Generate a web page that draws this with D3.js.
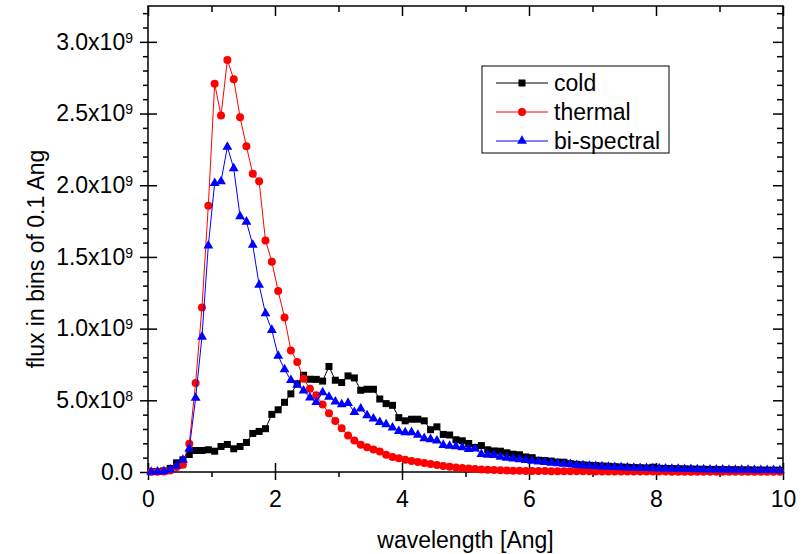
<!DOCTYPE html>
<html>
<head>
<meta charset="utf-8">
<script src="https://cdn.jsdelivr.net/npm/d3@7"></script>
<style>
  body { margin: 0; background: #fff; }
  svg { display: block; font-family: "Liberation Sans", Arial, sans-serif; }
</style>
</head>
<body>
<div id="chart"></div>
<script>
// wavelength bin centres (Ang), 0.1 Ang bins
const wavelength = d3.range(100).map(i => +(0.05 + i * 0.1).toFixed(2));

// flux values, in units of 1e9
const cold = [
  0.002, 0.004, 0.008, 0.025, 0.064, 0.085, 0.122, 0.150, 0.150, 0.155,
  0.145, 0.178, 0.192, 0.162, 0.178, 0.206, 0.269, 0.283, 0.302, 0.402,
  0.434, 0.486, 0.545, 0.615, 0.675, 0.647, 0.646, 0.634, 0.736, 0.640,
  0.624, 0.670, 0.656, 0.570, 0.577, 0.577, 0.509, 0.477, 0.465, 0.379,
  0.357, 0.368, 0.368, 0.357, 0.295, 0.315, 0.262, 0.258, 0.225, 0.218,
  0.199, 0.171, 0.184, 0.155, 0.147, 0.145, 0.134, 0.124, 0.120, 0.105,
  0.100, 0.082, 0.080, 0.076, 0.069, 0.068, 0.058, 0.054, 0.050, 0.047,
  0.045, 0.042, 0.040, 0.037, 0.035, 0.033, 0.031, 0.030, 0.028, 0.033,
  0.026, 0.025, 0.024, 0.023, 0.022, 0.021, 0.020, 0.019, 0.018, 0.018,
  0.017, 0.016, 0.016, 0.015, 0.015, 0.014, 0.014, 0.013, 0.013, 0.012
];
const thermal = [
  0.001, 0.002, 0.004, 0.010, 0.035, 0.050, 0.197, 0.621, 1.148, 1.857,
  2.708, 2.486, 2.873, 2.740, 2.474, 2.271, 2.080, 2.027, 1.615, 1.467,
  1.262, 1.078, 0.848, 0.768, 0.650, 0.580, 0.535, 0.470, 0.410, 0.355,
  0.305, 0.255, 0.220, 0.190, 0.172, 0.157, 0.143, 0.120, 0.105, 0.096,
  0.085, 0.077, 0.070, 0.062, 0.055, 0.048, 0.042, 0.037, 0.032, 0.028,
  0.024, 0.021, 0.018, 0.016, 0.014, 0.012, 0.011, 0.0095, 0.0085, 0.0078,
  0.0072, 0.0068, 0.0064, 0.0060, 0.0057, 0.0054, 0.0051, 0.0048, 0.0046, 0.0044,
  0.0042, 0.0040, 0.0038, 0.0036, 0.0035, 0.0033, 0.0032, 0.0031, 0.0030, 0.0029,
  0.0028, 0.0027, 0.0026, 0.0025, 0.0024, 0.0023, 0.0022, 0.0022, 0.0021, 0.0020,
  0.0020, 0.0019, 0.0019, 0.0018, 0.0018, 0.0017, 0.0017, 0.0016, 0.0016, 0.0015
];
const bispectral = [
  0.001, 0.002, 0.004, 0.017, 0.043, 0.085, 0.162, 0.516, 0.943, 1.579,
  2.015, 2.027, 2.267, 2.118, 1.782, 1.745, 1.584, 1.304, 1.106, 0.990,
  0.810, 0.716, 0.640, 0.608, 0.567, 0.519, 0.487, 0.555, 0.523, 0.490,
  0.472, 0.481, 0.418, 0.442, 0.395, 0.372, 0.348, 0.332, 0.309, 0.285,
  0.276, 0.277, 0.258, 0.235, 0.228, 0.218, 0.188, 0.182, 0.178, 0.171,
  0.160, 0.162, 0.125, 0.120, 0.118, 0.105, 0.099, 0.093, 0.087, 0.082,
  0.078, 0.072, 0.069, 0.064, 0.060, 0.057, 0.054, 0.048, 0.045, 0.042,
  0.040, 0.038, 0.036, 0.034, 0.032, 0.030, 0.029, 0.027, 0.026, 0.025,
  0.024, 0.023, 0.022, 0.021, 0.020, 0.019, 0.018, 0.018, 0.017, 0.016,
  0.016, 0.015, 0.015, 0.014, 0.014, 0.013, 0.013, 0.012, 0.012, 0.011
];

const seriesNames = ["cold", "thermal", "bi-spectral"];
const seriesColors = ["#000000", "#ff0000", "#0000ff"];
const seriesMarkers = ["square", "circle", "triangle"];

const xTicks = [0, 2, 4, 6, 8, 10];
const xMinorTicks = [1, 3, 5, 7, 9];
const yTicks = [0, 0.5, 1.0, 1.5, 2.0, 2.5, 3.0];
const yTickLabels = ["0.0", "5.0x10|8", "1.0x10|9", "1.5x10|9", "2.0x10|9", "2.5x10|9", "3.0x10|9"];
const yMinorTicks = d3.range(1, 33).map(i => i / 10).filter(v => !yTicks.some(t => Math.abs(t - v) < 1e-6));

// Set up the dimensions of the chart
const W = 809, H = 554;
const margin = { top: 6, right: 26, bottom: 82, left: 148 };
const width = W - margin.left - margin.right;
const height = H - margin.top - margin.bottom;
const fontSize = "23px";

const svg = d3.select("#chart").append("svg")
  .attr("width", W)
  .attr("height", H);

const g = svg.append("g")
  .attr("transform", "translate(" + margin.left + "," + margin.top + ")");

const x = d3.scaleLinear().domain([0, 10]).range([0, width]);
const y = d3.scaleLinear().domain([0, 3.25]).range([height, 0]);

// helper: draw an axis with no labels, just ticks
function tickAxis(axisFn, scale, values, size, transform) {
  const a = g.append("g")
    .attr("transform", transform)
    .call(axisFn(scale).tickValues(values).tickSize(size).tickFormat(""));
  a.select(".domain").remove();
  a.selectAll(".tick line").style("stroke", "#000").style("stroke-width", 1.5);
  return a;
}

// bottom axis: major ticks cross the axis, minor ticks outside
const xAxisG = g.append("g")
  .attr("class", "x axis")
  .attr("transform", "translate(0," + height + ")")
  .call(d3.axisBottom(x).tickValues(xTicks).tickSize(8).tickPadding(11));
xAxisG.select(".domain").remove();
xAxisG.selectAll(".tick line").style("stroke", "#000").style("stroke-width", 1.5);
xAxisG.selectAll(".tick text")
  .style("font-size", fontSize)
  .style("fill", "#000");
tickAxis(d3.axisBottom, x, xTicks, -9, "translate(0," + height + ")");
tickAxis(d3.axisBottom, x, xMinorTicks, 5, "translate(0," + height + ")");

// left axis
const yAxisG = g.append("g")
  .attr("class", "y axis")
  .call(d3.axisLeft(y).tickValues(yTicks).tickSize(8).tickPadding(7));
yAxisG.select(".domain").remove();
yAxisG.selectAll(".tick line").style("stroke", "#000").style("stroke-width", 1.5);
yAxisG.selectAll(".tick text")
  .style("font-size", fontSize)
  .style("fill", "#000")
  .each(function(d, i) {
    const parts = yTickLabels[i].split("|");
    const t = d3.select(this).text(null);
    t.append("tspan").text(parts[0]);
    if (parts[1]) {
      t.append("tspan").attr("dy", "-0.5em").style("font-size", "14px").text(parts[1]);
    }
  });
tickAxis(d3.axisLeft, y, yTicks, -9, null);
tickAxis(d3.axisLeft, y, yMinorTicks, 5, null);

// right and top axes: ticks point inward
tickAxis(d3.axisRight, y, yTicks, -10, "translate(" + width + ",0)");
tickAxis(d3.axisRight, y, yMinorTicks, -6, "translate(" + width + ",0)");
tickAxis(d3.axisTop, x, xTicks, -10, null);
tickAxis(d3.axisTop, x, xMinorTicks, -6, null);

// frame
g.append("rect")
  .attr("x", 0).attr("y", 0)
  .attr("width", width).attr("height", height)
  .attr("fill", "none")
  .attr("stroke", "#000")
  .attr("stroke-width", 1.5);

// axis titles
svg.append("text")
  .attr("x", margin.left + width / 2)
  .attr("y", 548)
  .attr("text-anchor", "middle")
  .style("font-size", fontSize)
  .text("wavelength [Ang]");

svg.append("text")
  .attr("transform", "translate(44," + (margin.top + height / 2 + 20) + ") rotate(-90)")
  .attr("text-anchor", "middle")
  .style("font-size", fontSize)
  .text("flux in bins of 0.1 Ang");

// marker drawing
function drawMarker(sel, type, color) {
  if (type === "square") {
    sel.append("rect").attr("x", -3.5).attr("y", -3.5).attr("width", 7).attr("height", 7).attr("fill", color);
  } else if (type === "circle") {
    sel.append("circle").attr("r", 4).attr("fill", color);
  } else {
    sel.append("path").attr("d", d3.symbol(d3.symbolTriangle, 42)()).attr("fill", color);
  }
}

const allSeries = [cold, thermal, bispectral];
const line = d3.line()
  .x(d => x(d[0]))
  .y(d => y(d[1]));

allSeries.forEach((vals, s) => {
  const pts = wavelength.map((w, i) => [w, vals[i]]);
  g.append("path")
    .datum(pts)
    .attr("fill", "none")
    .attr("stroke", seriesColors[s])
    .attr("stroke-width", 1)
    .attr("d", line);
  g.append("g").selectAll("g")
    .data(pts)
    .enter().append("g")
    .attr("transform", d => "translate(" + x(d[0]) + "," + y(d[1]) + ")")
    .each(function() { drawMarker(d3.select(this), seriesMarkers[s], seriesColors[s]); });
});

// legend
const legend = svg.append("g").attr("transform", "translate(482,66)");
legend.append("rect")
  .attr("width", 187).attr("height", 87)
  .attr("fill", "#fff")
  .attr("stroke", "#000")
  .attr("stroke-width", 1);
seriesNames.forEach((name, i) => {
  const row = legend.append("g").attr("transform", "translate(0," + (17 + i * 29) + ")");
  row.append("line")
    .attr("x1", 14).attr("x2", 66)
    .attr("stroke", seriesColors[i]).attr("stroke-width", 1);
  const m = row.append("g").attr("transform", "translate(40,0)");
  drawMarker(m, seriesMarkers[i], seriesColors[i]);
  row.append("text")
    .attr("x", 72).attr("y", 8)
    .style("font-size", fontSize)
    .text(name);
});
</script>
</body>
</html>
